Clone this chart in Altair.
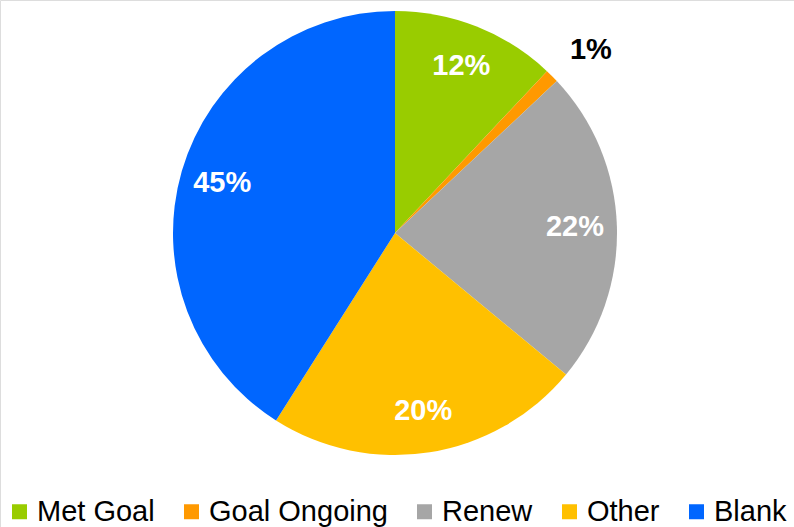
import altair as alt
import pandas as pd

categories = ["Met Goal", "Goal Ongoing", "Renew", "Other", "Blank"]
values = [12, 1, 23, 23, 41]
labels = ["12%", "1%", "22%", "20%", "45%"]
colors = ["#99CC00", "#FF9900", "#A6A6A6", "#FFC000", "#0066FF"]

df = pd.DataFrame({
    "category": categories,
    "value": values,
    "label": labels,
    "order": list(range(len(categories))),
})

CX, CY, R = 395, 233, 222
FONT = "Liberation Sans"

color = alt.Color(
    "category:N",
    scale=alt.Scale(domain=categories, range=colors),
    sort=categories,
    legend=alt.Legend(
        title=None,
        orient="none",
        legendX=5,
        legendY=497,
        direction="horizontal",
        symbolType="square",
        symbolSize=225,
        symbolStrokeWidth=0,
        labelFont=FONT,
        labelFontSize=29,
        labelColor="#000000",
        labelOffset=3,
        columnPadding=22,
        labelLimit=400,
    ),
)

base = alt.Chart(df).transform_window(
    cum="sum(value)", sort=[alt.SortField("order")], frame=[None, 0]
).transform_calculate(
    mid="datum.cum - datum.value / 2"
)

theta_scale = alt.Scale(domain=[0, 100])

arcs = base.mark_arc(radius=R, stroke=None).encode(
    theta=alt.Theta("value:Q", stack=True, scale=theta_scale),
    order=alt.Order("order:Q"),
    color=color,
    x=alt.value(CX),
    y=alt.value(CY),
)

inner = base.transform_filter(alt.datum.category != "Goal Ongoing").mark_text(
    radius=180, font=FONT, fontSize=29, fontWeight="bold", color="white",
    align="center", baseline="middle",
).encode(
    theta=alt.Theta("mid:Q", stack=None, scale=theta_scale),
    text="label:N",
    x=alt.value(CX),
    y=alt.value(CY),
)

outer = base.transform_filter(alt.datum.category == "Goal Ongoing").mark_text(
    radius=270, font=FONT, fontSize=29, fontWeight="bold", color="black",
    align="center", baseline="middle", dx=5, dy=8,
).encode(
    theta=alt.Theta("mid:Q", stack=None, scale=theta_scale),
    text="label:N",
    x=alt.value(CX),
    y=alt.value(CY),
)

chart = alt.layer(arcs, inner, outer).properties(
    width=794, height=527,
    autosize=alt.AutoSizeParams(type="none"),
    padding=0,
).configure_view(stroke=None).configure(background="white")

chart.save("out.html", embed_options={"renderer": "svg", "actions": False})
